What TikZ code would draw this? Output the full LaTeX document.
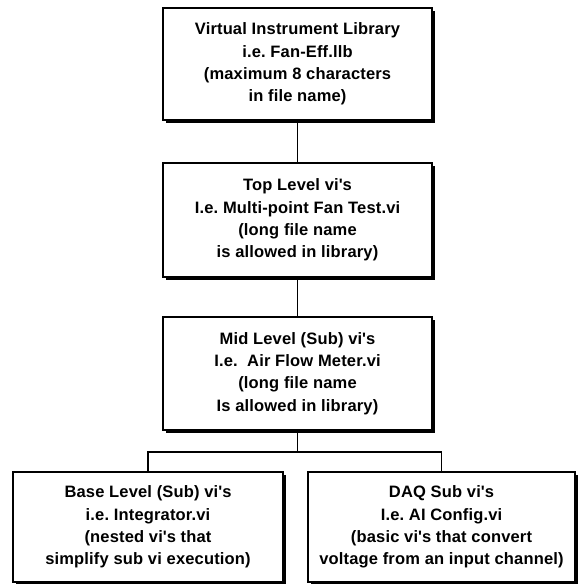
\documentclass[tikz,border=0pt]{standalone}
\usepackage{fontspec}
\setmainfont{Liberation Sans}[LetterSpace=1]
\usetikzlibrary{shadows}
\newcommand{\ap}{\textquotesingle}
\frenchspacing
\tikzset{
  levelbox/.style={draw=black, line width=1.4pt, fill=white, align=center,
    inner sep=0pt, font=\bfseries\fontsize{16.5}{22.4}\selectfont,
    drop shadow={shadow xshift=2.5pt, shadow yshift=-2.5pt, opacity=1, fill=black}},
  link/.style={draw=black, line width=1.5pt}
}
\begin{document}
\begin{tikzpicture}[x=1pt,y=-1pt]
\useasboundingbox (0,0) rectangle (581,584);
\node[levelbox, minimum width=269pt, minimum height=112pt] (b1) at (297.5,64)
  {Virtual Instrument Library\\i.e. Fan-Eff.llb\\(maximum 8 characters\\in file name)};
\node[levelbox, minimum width=269pt, minimum height=114pt] (b2) at (297.5,220)
  {Top Level vi\ap s\\I.e. Multi-point Fan Test.vi\\(long file name\\is allowed in library)};
\node[levelbox, minimum width=269pt, minimum height=113pt] (b3) at (297.5,373.5)
  {Mid Level (Sub) vi\ap s\\I.e.\ \ Air Flow Meter.vi\\(long file name\\Is allowed in library)};
\node[levelbox, minimum width=270pt, minimum height=110pt] (b4) at (148,527)
  {Base Level (Sub) vi\ap s\\i.e. Integrator.vi\\(nested vi\ap s that\\simplify sub vi execution)};
\node[levelbox, minimum width=267pt, minimum height=110pt] (b5) at (441.5,527)
  {DAQ Sub vi\ap s\\I.e. AI Config.vi\\(basic vi\ap s that convert\\voltage from an input channel)};
\coordinate (j) at (297.5,452);
\draw[link] (b1.south) -- (b2.north);
\draw[link] (b2.south) -- (b3.north);
\draw[link] (b3.south) -- (j);
\draw[link] (b4.north) |- (j) -| (b5.north);
\end{tikzpicture}
\end{document}
